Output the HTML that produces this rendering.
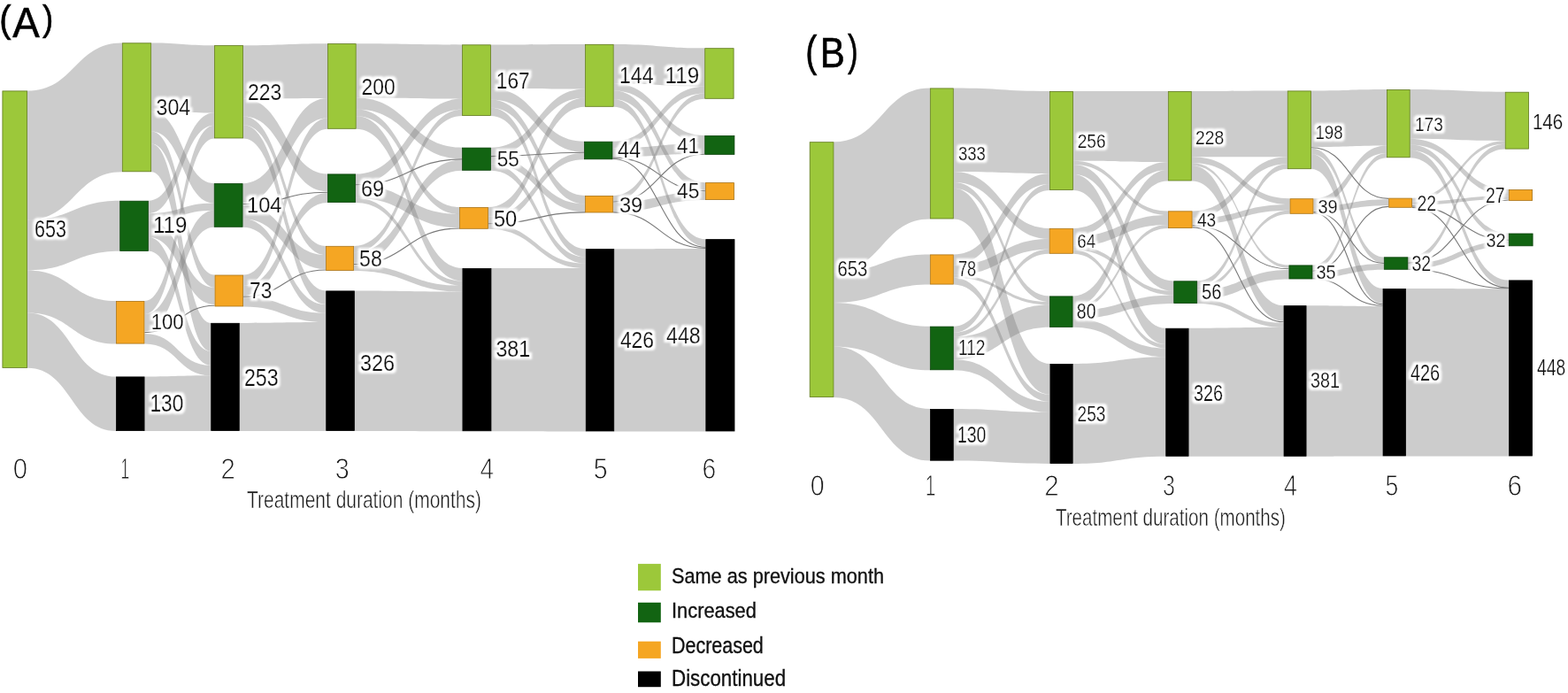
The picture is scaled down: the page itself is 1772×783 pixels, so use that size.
<!DOCTYPE html>
<html><head><meta charset="utf-8"><title>Sankey</title><style>html,body{margin:0;padding:0;background:#fff;overflow:hidden}svg{display:block}</style></head><body>
<svg width="1772" height="783" viewBox="0 0 1772 783">
<defs><filter id="halo2" x="-5%" y="-5%" width="110%" height="110%"><feMorphology in="SourceAlpha" operator="dilate" radius="3" result="d"/><feGaussianBlur in="d" stdDeviation="1.1" result="b"/><feFlood flood-color="#fff"/><feComposite in2="b" operator="in" result="h"/><feMerge><feMergeNode in="h"/><feMergeNode in="SourceGraphic"/></feMerge></filter></defs>
<rect width="1772" height="783" fill="#fff"/>
<g id="panelA">
<text font-family="Liberation Sans, sans-serif" fill="#000" stroke="#000" stroke-width="0.6"><tspan x="-0.7" y="36.1" font-size="43.36" textLength="13.3" lengthAdjust="spacingAndGlyphs">(</tspan><tspan x="14.2" y="41.7" font-size="47.85" textLength="30.5" lengthAdjust="spacingAndGlyphs">A</tspan><tspan x="48.1" y="35.1" font-size="41.23" textLength="12.2" lengthAdjust="spacingAndGlyphs">)</tspan></text>
<g fill="#808080" fill-opacity="0.4">
<path d="M31 102.5C84.5 102.5 84.5 48.4 137.9 48.4L137.9 194.2C84.5 194.2 84.5 248.4 31 248.4Z"/>
<path d="M31 248.4C83.2 248.4 83.2 226.8 135.3 226.8L135.3 283.8C83.2 283.8 83.2 305.4 31 305.4Z"/>
<path d="M31 305.4C81 305.4 81 340 131 340L131 388.5C81 388.5 81 353.4 31 353.4Z"/>
<path d="M31 353.4C81 353.4 81 425.5 131 425.5L131 487C81 487 81 415.8 31 415.8Z"/>
<path d="M171.1 48.4C206.6 48.4 206.6 51.2 242.1 51.2L242.1 127.6C206.6 127.6 206.6 126.1 171.1 126.1Z"/>
<path d="M171.1 126.1C206.4 126.1 206.4 207.2 241.8 207.2L241.8 229.6C206.4 229.6 206.4 148.6 171.1 148.6Z"/>
<path d="M171.1 148.6C206.8 148.6 206.8 310.6 242.6 310.6L242.6 324.8C206.8 324.8 206.8 162.5 171.1 162.5Z"/>
<path d="M171.1 162.5C204.7 162.5 204.7 364.9 238.3 364.9L238.3 396.8C204.7 396.8 204.7 194.2 171.1 194.2Z"/>
<path d="M167.8 226.8C204.9 226.8 204.9 127.6 242.1 127.6L242.1 141.8C204.9 141.8 204.9 241.2 167.8 241.2Z"/>
<path d="M167.8 241.2C204.8 241.2 204.8 229.6 241.8 229.6L241.8 237.7C204.8 237.7 204.8 249.3 167.8 249.3Z"/>
<path d="M167.8 249.3C205.2 249.3 205.2 324.8 242.6 324.8L242.6 343.9C205.2 343.9 205.2 268 167.8 268Z"/>
<path d="M167.8 268C203.1 268 203.1 396.8 238.3 396.8L238.3 412.7C203.1 412.7 203.1 283.8 167.8 283.8Z"/>
<path d="M163.4 340C202.8 340 202.8 141.8 242.1 141.8L242.1 156.4C202.8 156.4 202.8 355 163.4 355Z"/>
<path d="M163.4 355C202.6 355 202.6 237.7 241.8 237.7L241.8 256.7C202.6 256.7 202.6 374.4 163.4 374.4Z"/>
<path d="M163.4 376.9C200.9 376.9 200.9 412.7 238.3 412.7L238.3 424.3C200.9 424.3 200.9 388.5 163.4 388.5Z"/>
<path d="M163.5 425.5C200.9 425.5 200.9 424.3 238.3 424.3L238.3 487C200.9 487 200.9 487 163.5 487Z"/>
<path d="M275 51.2C322.6 51.2 322.6 49.2 370.1 49.2L370.1 111C322.6 111 322.6 111.6 275 111.6Z"/>
<path d="M275 111.6C322.6 111.6 322.6 196.5 370.1 196.5L370.1 216.2C322.6 216.2 322.6 131.4 275 131.4Z"/>
<path d="M275 131.4C321.6 131.4 321.6 277.9 368.1 277.9L368.1 288.1C321.6 288.1 321.6 141.3 275 141.3Z"/>
<path d="M275 141.3C321.6 141.3 321.6 328.5 368.3 328.5L368.3 344.1C321.6 344.1 321.6 156.4 275 156.4Z"/>
<path d="M274.5 207.2C322.3 207.2 322.3 111 370.1 111L370.1 133.6C322.3 133.6 322.3 229.6 274.5 229.6Z"/>
<path d="M274.5 231.5C321.3 231.5 321.3 288.1 368.1 288.1L368.1 304.1C321.3 304.1 321.3 247.2 274.5 247.2Z"/>
<path d="M274.5 247.2C321.4 247.2 321.4 344.1 368.3 344.1L368.3 353.8C321.4 353.8 321.4 256.7 274.5 256.7Z"/>
<path d="M275 310.6C322.6 310.6 322.6 133.6 370.1 133.6L370.1 145.7C322.6 145.7 322.6 322.9 275 322.9Z"/>
<path d="M275 322.9C322.6 322.9 322.6 218.1 370.1 218.1L370.1 228.9C322.6 228.9 322.6 334.1 275 334.1Z"/>
<path d="M275 336.1C321.6 336.1 321.6 353.8 368.3 353.8L368.3 364C321.6 364 321.6 346.4 275 346.4Z"/>
<path d="M270.7 364.9C319.5 364.9 319.5 364 368.3 364L368.3 487C319.5 487 319.5 487 270.7 487Z"/>
<path d="M402.6 49.2C462.4 49.2 462.4 50.4 522.2 50.4L522.2 111.6C462.4 111.6 462.4 110.5 402.6 110.5Z"/>
<path d="M402.6 110.5C462.4 110.5 462.4 166.7 522.2 166.7L522.2 179.5C462.4 179.5 462.4 123.5 402.6 123.5Z"/>
<path d="M402.6 123.5C460.9 123.5 460.9 234 519.2 234L519.2 241.9C460.9 241.9 460.9 131.2 402.6 131.2Z"/>
<path d="M402.6 131.2C462.6 131.2 462.6 303 522.5 303L522.5 317.5C462.6 317.5 462.6 145.7 402.6 145.7Z"/>
<path d="M402 196.5C462.1 196.5 462.1 111.6 522.2 111.6L522.2 123.7C462.1 123.7 462.1 208.2 402 208.2Z"/>
<path d="M402 209.2C460.6 209.2 460.6 241.9 519.2 241.9L519.2 257.2C460.6 257.2 460.6 223.7 402 223.7Z"/>
<path d="M402 223.7C462.2 223.7 462.2 317.5 522.5 317.5L522.5 322.8C462.2 322.8 462.2 228.9 402 228.9Z"/>
<path d="M400 277.9C461.1 277.9 461.1 123.7 522.2 123.7L522.2 130.9C461.1 130.9 461.1 285.2 400 285.2Z"/>
<path d="M400 285.2C461.1 285.2 461.1 180.4 522.2 180.4L522.2 192.7C461.1 192.7 461.1 297.8 400 297.8Z"/>
<path d="M400 299.2C461.2 299.2 461.2 322.8 522.5 322.8L522.5 329.6C461.2 329.6 461.2 306 400 306Z"/>
<path d="M400.8 328.5C461.6 328.5 461.6 329.6 522.5 329.6L522.5 487.2C461.6 487.2 461.6 487 400.8 487Z"/>
<path d="M554.9 50.4C608 50.4 608 49.9 661.2 49.9L661.2 100.5C608 100.5 608 100 554.9 100Z"/>
<path d="M554.9 100C607.5 100 607.5 159.8 660 159.8L660 171.9C607.5 171.9 607.5 112.6 554.9 112.6Z"/>
<path d="M554.9 112.6C608 112.6 608 221 661.2 221L661.2 230.5C608 230.5 608 121.7 554.9 121.7Z"/>
<path d="M554.9 121.7C608.3 121.7 608.3 281.2 661.8 281.2L661.8 290.4C608.3 290.4 608.3 130.9 554.9 130.9Z"/>
<path d="M554.9 166.7C608 166.7 608 100.5 661.2 100.5L661.2 110.4C608 110.4 608 176.2 554.9 176.2Z"/>
<path d="M554.9 177.1C608 177.1 608 230.5 661.2 230.5L661.2 239.4C608 239.4 608 185.6 554.9 185.6Z"/>
<path d="M554.9 185.6C608.3 185.6 608.3 290.4 661.8 290.4L661.8 297.7C608.3 297.7 608.3 192.7 554.9 192.7Z"/>
<path d="M551.9 234C606.5 234 606.5 110.4 661.2 110.4L661.2 120.7C606.5 120.7 606.5 244.4 551.9 244.4Z"/>
<path d="M551.9 244.4C606 244.4 606 172.8 660 172.8L660 180.2C606 180.2 606 252.3 551.9 252.3Z"/>
<path d="M551.9 253.3C606.8 253.3 606.8 297.7 661.8 297.7L661.8 303C606.8 303 606.8 258.7 551.9 258.7Z"/>
<path d="M555.4 303C608.6 303 608.6 303 661.8 303L661.8 487.4C608.6 487.4 608.6 487.2 555.4 487.2Z"/>
<path d="M693.6 49.9C745 49.9 745 54.3 796.3 54.3L796.3 97.7C745 97.7 745 94.2 693.6 94.2Z"/>
<path d="M693.6 94.2C745 94.2 745 153.1 796.3 153.1L796.3 162.1C745 162.1 745 102.5 693.6 102.5Z"/>
<path d="M693.6 102.5C745.3 102.5 745.3 206.2 797 206.2L797 215C745.3 215 745.3 112.3 693.6 112.3Z"/>
<path d="M693.6 112.3C745.5 112.3 745.5 270.2 797.4 270.2L797.4 278.4C745.5 278.4 745.5 120.7 693.6 120.7Z"/>
<path d="M692.4 159.8C744.3 159.8 744.3 97.7 796.3 97.7L796.3 105.4C744.3 105.4 744.3 167.2 692.4 167.2Z"/>
<path d="M692.4 167.2C744.3 167.2 744.3 162.1 796.3 162.1L796.3 173.7C744.3 173.7 744.3 177.4 692.4 177.4Z"/>
<path d="M693.1 221C744.7 221 744.7 105.4 796.3 105.4L796.3 111.7C744.7 111.7 744.7 227.5 693.1 227.5Z"/>
<path d="M693.1 228.5C745 228.5 745 216.3 797 216.3L797 226C745 226 745 239.4 693.1 239.4Z"/>
<path d="M694.2 281.2C745.8 281.2 745.8 280.9 797.4 280.9L797.4 487.4C745.8 487.4 745.8 487.4 694.2 487.4Z"/>
</g>
<g fill="none" stroke="#7a7a7a" stroke-width="1.1">
<path d="M163.4 375.6C203 375.6 203 345.2 242.6 345.2"/>
<path d="M274.5 230.5C322.3 230.5 322.3 217.2 370.1 217.2"/>
<path d="M275 335.1C321.6 335.1 321.6 305 368.1 305"/>
<path d="M402 208.7C462.1 208.7 462.1 179.9 522.2 179.9"/>
<path d="M400 298.5C459.6 298.5 459.6 258 519.2 258"/>
<path d="M554.9 176.6C607.5 176.6 607.5 172.3 660 172.3"/>
<path d="M551.9 252.8C606.5 252.8 606.5 239.9 661.2 239.9"/>
<path d="M692.4 178.1C744.7 178.1 744.7 215.7 797 215.7"/>
<path d="M692.4 179.5C744.9 179.5 744.9 279.2 797.4 279.2"/>
<path d="M693.1 228C744.7 228 744.7 174.3 796.3 174.3"/>
<path d="M693.1 239.9C745.2 239.9 745.2 280.4 797.4 280.4"/>
</g>
<g>
<rect x="2.9" y="102.9" width="27.7" height="312.5" fill="#9cc83a" stroke="#60781f" stroke-width="0.8"/>
<rect x="138.3" y="48.8" width="32.4" height="145" fill="#9cc83a" stroke="#60781f" stroke-width="0.8"/>
<rect x="135.7" y="227.2" width="31.7" height="56.2" fill="#126412" stroke="#0a420a" stroke-width="0.8"/>
<rect x="131.4" y="340.4" width="31.6" height="47.7" fill="#f5a623" stroke="#a8741a" stroke-width="0.8"/>
<rect x="131.4" y="425.9" width="31.7" height="60.7" fill="#000000" stroke="#000" stroke-width="0.8"/>
<rect x="242.5" y="51.6" width="32.1" height="104.4" fill="#9cc83a" stroke="#60781f" stroke-width="0.8"/>
<rect x="242.2" y="207.6" width="31.9" height="48.7" fill="#126412" stroke="#0a420a" stroke-width="0.8"/>
<rect x="243" y="311" width="31.6" height="35" fill="#f5a623" stroke="#a8741a" stroke-width="0.8"/>
<rect x="238.7" y="365.3" width="31.6" height="121.3" fill="#000000" stroke="#000" stroke-width="0.8"/>
<rect x="370.5" y="49.6" width="31.7" height="95.7" fill="#9cc83a" stroke="#60781f" stroke-width="0.8"/>
<rect x="370.5" y="196.9" width="31.1" height="31.6" fill="#126412" stroke="#0a420a" stroke-width="0.8"/>
<rect x="368.5" y="278.3" width="31.1" height="27.3" fill="#f5a623" stroke="#a8741a" stroke-width="0.8"/>
<rect x="368.7" y="328.9" width="31.7" height="157.7" fill="#000000" stroke="#000" stroke-width="0.8"/>
<rect x="522.6" y="50.8" width="31.9" height="79.7" fill="#9cc83a" stroke="#60781f" stroke-width="0.8"/>
<rect x="522.6" y="167.1" width="31.9" height="25.2" fill="#126412" stroke="#0a420a" stroke-width="0.8"/>
<rect x="519.6" y="234.4" width="31.9" height="23.9" fill="#f5a623" stroke="#a8741a" stroke-width="0.8"/>
<rect x="522.9" y="303.4" width="32.1" height="183.4" fill="#000000" stroke="#000" stroke-width="0.8"/>
<rect x="661.6" y="50.3" width="31.6" height="70" fill="#9cc83a" stroke="#60781f" stroke-width="0.8"/>
<rect x="660.4" y="160.2" width="31.6" height="19.6" fill="#126412" stroke="#0a420a" stroke-width="0.8"/>
<rect x="661.6" y="221.4" width="31.1" height="18.6" fill="#f5a623" stroke="#a8741a" stroke-width="0.8"/>
<rect x="662.2" y="281.6" width="31.6" height="205.4" fill="#000000" stroke="#000" stroke-width="0.8"/>
<rect x="796.7" y="54.7" width="32.4" height="56.6" fill="#9cc83a" stroke="#60781f" stroke-width="0.8"/>
<rect x="796.7" y="153.5" width="33.2" height="20.9" fill="#126412" stroke="#0a420a" stroke-width="0.8"/>
<rect x="797.4" y="206.6" width="32" height="19" fill="#f5a623" stroke="#a8741a" stroke-width="0.8"/>
<rect x="797.8" y="270.6" width="32.2" height="216.4" fill="#000000" stroke="#000" stroke-width="0.8"/>
</g>
<g font-family="Liberation Sans, sans-serif" fill="#111" stroke="#111" stroke-width="0.2" filter="url(#halo2)">
<text x="39" y="267.5" font-size="27.5" textLength="36.0" lengthAdjust="spacingAndGlyphs">653</text>
<text x="176.6" y="130.1" font-size="26.6" textLength="38.6" lengthAdjust="spacingAndGlyphs">304</text>
<text x="173" y="262.6" font-size="25.2" textLength="38.3" lengthAdjust="spacingAndGlyphs">119</text>
<text x="170.7" y="371.9" font-size="24.5" textLength="36.9" lengthAdjust="spacingAndGlyphs">100</text>
<text x="169.5" y="464.5" font-size="27.6" textLength="37.8" lengthAdjust="spacingAndGlyphs">130</text>
<text x="280" y="113" font-size="25.2" textLength="38.3" lengthAdjust="spacingAndGlyphs">223</text>
<text x="279" y="239.6" font-size="24.1" textLength="39.4" lengthAdjust="spacingAndGlyphs">104</text>
<text x="282" y="336.7" font-size="25.2" textLength="25.3" lengthAdjust="spacingAndGlyphs">73</text>
<text x="275.9" y="436.3" font-size="27.2" textLength="38.7" lengthAdjust="spacingAndGlyphs">253</text>
<text x="408.5" y="106.6" font-size="25.9" textLength="38.1" lengthAdjust="spacingAndGlyphs">200</text>
<text x="408" y="221.6" font-size="25.2" textLength="26.2" lengthAdjust="spacingAndGlyphs">69</text>
<text x="406.1" y="300.9" font-size="25.2" textLength="25.7" lengthAdjust="spacingAndGlyphs">58</text>
<text x="407" y="418.7" font-size="26.6" textLength="39.1" lengthAdjust="spacingAndGlyphs">326</text>
<text x="560.8" y="100.2" font-size="25.1" textLength="37.8" lengthAdjust="spacingAndGlyphs">167</text>
<text x="561.8" y="188.4" font-size="24.5" textLength="25.1" lengthAdjust="spacingAndGlyphs">55</text>
<text x="557.9" y="255.7" font-size="25.2" textLength="26.3" lengthAdjust="spacingAndGlyphs">50</text>
<text x="560.4" y="403" font-size="25.6" textLength="38.8" lengthAdjust="spacingAndGlyphs">381</text>
<text x="700" y="94.4" font-size="25.9" textLength="38.6" lengthAdjust="spacingAndGlyphs">144</text>
<text x="698.1" y="178.1" font-size="25.1" textLength="26.0" lengthAdjust="spacingAndGlyphs">44</text>
<text x="699.9" y="239.6" font-size="24.1" textLength="26.3" lengthAdjust="spacingAndGlyphs">39</text>
<text x="700.9" y="392.8" font-size="25.1" textLength="38.1" lengthAdjust="spacingAndGlyphs">426</text>
<text x="751.6" y="94.4" font-size="25.9" textLength="38.6" lengthAdjust="spacingAndGlyphs">119</text>
<text x="765" y="172.5" font-size="24.4" textLength="25.1" lengthAdjust="spacingAndGlyphs">41</text>
<text x="765" y="224.1" font-size="24.1" textLength="25.3" lengthAdjust="spacingAndGlyphs">45</text>
<text x="753.1" y="387.7" font-size="25.1" textLength="38.6" lengthAdjust="spacingAndGlyphs">448</text>
</g>
<g font-family="Liberation Sans, sans-serif">
<text x="14.7" y="541.2" font-size="33.79" textLength="16.3" lengthAdjust="spacingAndGlyphs" fill="#1a1a1a" stroke="#fff" stroke-width="0.9">0</text>
<text x="136.5" y="541.2" font-size="33.79" textLength="9.7" lengthAdjust="spacingAndGlyphs" fill="#1a1a1a" stroke="#fff" stroke-width="0.9">1</text>
<text x="249.4" y="541.2" font-size="33.79" textLength="16.3" lengthAdjust="spacingAndGlyphs" fill="#1a1a1a" stroke="#fff" stroke-width="0.9">2</text>
<text x="378.8" y="541.2" font-size="33.79" textLength="16.0" lengthAdjust="spacingAndGlyphs" fill="#1a1a1a" stroke="#fff" stroke-width="0.9">3</text>
<text x="542.6" y="541.2" font-size="33.79" textLength="15.5" lengthAdjust="spacingAndGlyphs" fill="#1a1a1a" stroke="#fff" stroke-width="0.9">4</text>
<text x="670.8" y="541.2" font-size="33.79" textLength="15.9" lengthAdjust="spacingAndGlyphs" fill="#1a1a1a" stroke="#fff" stroke-width="0.9">5</text>
<text x="793.5" y="541.2" font-size="33.79" textLength="15.7" lengthAdjust="spacingAndGlyphs" fill="#1a1a1a" stroke="#fff" stroke-width="0.9">6</text>
<text x="279.0" y="574.3" font-size="28.20" textLength="265.0" lengthAdjust="spacingAndGlyphs" fill="#1a1a1a" stroke="#fff" stroke-width="0.5">Treatment duration (months)</text>
</g></g>
<g id="panelB">
<text font-family="Liberation Sans, sans-serif" fill="#000" stroke="#000" stroke-width="0.6"><tspan x="910.3" y="74.6" font-size="50.51" textLength="13.1" lengthAdjust="spacingAndGlyphs">(</tspan><tspan x="926.7" y="75.7" font-size="48.86" textLength="28.0" lengthAdjust="spacingAndGlyphs">B</tspan><tspan x="958.0" y="74.4" font-size="49.10" textLength="11.7" lengthAdjust="spacingAndGlyphs">)</tspan></text>
<g fill="#808080" fill-opacity="0.4">
<path d="M942.4 160.3C996.7 160.3 996.7 99.5 1050.9 99.5L1050.9 247.4C996.7 247.4 996.7 307.5 942.4 307.5Z"/>
<path d="M942.4 307.5C996.7 307.5 996.7 287.5 1050.9 287.5L1050.9 321.5C996.7 321.5 996.7 342 942.4 342Z"/>
<path d="M942.4 342C996.7 342 996.7 368.7 1050.9 368.7L1050.9 418.2C996.7 418.2 996.7 391.5 942.4 391.5Z"/>
<path d="M942.4 391.5C996.7 391.5 996.7 462 1051 462L1051 520.6C996.7 520.6 996.7 449 942.4 449Z"/>
<path d="M1077.7 99.5C1132 99.5 1132 103 1186.2 103L1186.2 196.1C1132 196.1 1132 194.1 1077.7 194.1Z"/>
<path d="M1077.7 194.1C1131.7 194.1 1131.7 257.9 1185.7 257.9L1185.7 270C1131.7 270 1131.7 206.1 1077.7 206.1Z"/>
<path d="M1077.7 206.1C1132 206.1 1132 334.5 1186.2 334.5L1186.2 341.1C1132 341.1 1132 212.8 1077.7 212.8Z"/>
<path d="M1077.7 212.8C1132.1 212.8 1132.1 411 1186.5 411L1186.5 445.8C1132.1 445.8 1132.1 247.4 1077.7 247.4Z"/>
<path d="M1077.7 287.5C1132 287.5 1132 196.1 1186.2 196.1L1186.2 207.9C1132 207.9 1132 299.3 1077.7 299.3Z"/>
<path d="M1077.7 299.3C1131.7 299.3 1131.7 270 1185.7 270L1185.7 281.7C1131.7 281.7 1131.7 310.6 1077.7 310.6Z"/>
<path d="M1077.7 310.6C1132 310.6 1132 341.1 1186.2 341.1L1186.2 344.2C1132 344.2 1132 313.7 1077.7 313.7Z"/>
<path d="M1077.7 313.7C1132.1 313.7 1132.1 445.8 1186.5 445.8L1186.5 453.9C1132.1 453.9 1132.1 321.5 1077.7 321.5Z"/>
<path d="M1077.7 368.7C1132 368.7 1132 207.9 1186.2 207.9L1186.2 214.9C1132 214.9 1132 375.8 1077.7 375.8Z"/>
<path d="M1077.7 375.8C1131.7 375.8 1131.7 281.7 1185.7 281.7L1185.7 286.7C1131.7 286.7 1131.7 380.6 1077.7 380.6Z"/>
<path d="M1077.7 380.6C1132 380.6 1132 344.2 1186.2 344.2L1186.2 369.8C1132 369.8 1132 406.3 1077.7 406.3Z"/>
<path d="M1077.7 406.3C1132.1 406.3 1132.1 453.9 1186.5 453.9L1186.5 465.9C1132.1 465.9 1132.1 418.2 1077.7 418.2Z"/>
<path d="M1077.7 462C1132.1 462 1132.1 465.9 1186.5 465.9L1186.5 524C1132.1 524 1132.1 520.6 1077.7 520.6Z"/>
<path d="M1213 103C1266.5 103 1266.5 103 1319.9 103L1319.9 183.1C1266.5 183.1 1266.5 181.7 1213 181.7Z"/>
<path d="M1213 181.7C1266.5 181.7 1266.5 238.4 1320.1 238.4L1320.1 243C1266.5 243 1266.5 186.1 1213 186.1Z"/>
<path d="M1213 186.1C1269.7 186.1 1269.7 317.4 1326.3 317.4L1326.3 328.8C1269.7 328.8 1269.7 197 1213 197Z"/>
<path d="M1213 197C1265.2 197 1265.2 370.8 1317.3 370.8L1317.3 389C1265.2 389 1265.2 214.9 1213 214.9Z"/>
<path d="M1213 257.9C1266.5 257.9 1266.5 183.1 1319.9 183.1L1319.9 191.9C1266.5 191.9 1266.5 266.9 1213 266.9Z"/>
<path d="M1213 266.9C1266.5 266.9 1266.5 243 1320.1 243L1320.1 253.9C1266.5 253.9 1266.5 277.7 1213 277.7Z"/>
<path d="M1213 277.7C1269.7 277.7 1269.7 328.8 1326.3 328.8L1326.3 333.4C1269.7 333.4 1269.7 282.2 1213 282.2Z"/>
<path d="M1213 282.2C1265.2 282.2 1265.2 389 1317.3 389L1317.3 393.5C1265.2 393.5 1265.2 286.7 1213 286.7Z"/>
<path d="M1212.5 334.5C1266.2 334.5 1266.2 191.9 1319.9 191.9L1319.9 204.4C1266.2 204.4 1266.2 346.9 1212.5 346.9Z"/>
<path d="M1212.5 346.9C1266.3 346.9 1266.3 253.9 1320.1 253.9L1320.1 258C1266.3 258 1266.3 350.8 1212.5 350.8Z"/>
<path d="M1212.5 350.8C1269.4 350.8 1269.4 333.4 1326.3 333.4L1326.3 343C1269.4 343 1269.4 360.1 1212.5 360.1Z"/>
<path d="M1212.5 360.1C1264.9 360.1 1264.9 393.5 1317.3 393.5L1317.3 403.2C1264.9 403.2 1264.9 369.8 1212.5 369.8Z"/>
<path d="M1212.6 411C1264.9 411 1264.9 403.2 1317.3 403.2L1317.3 515.7C1264.9 515.7 1264.9 524 1212.6 524Z"/>
<path d="M1346.7 103C1400.8 103 1400.8 102.5 1454.8 102.5L1454.8 177.2C1400.8 177.2 1400.8 177.3 1346.7 177.3Z"/>
<path d="M1346.7 177.3C1402.2 177.3 1402.2 224.3 1457.6 224.3L1457.6 231C1402.2 231 1402.2 183.9 1346.7 183.9Z"/>
<path d="M1346.7 183.9C1401.6 183.9 1401.6 299.5 1456.5 299.5L1456.5 302.7C1401.6 302.7 1401.6 187.1 1346.7 187.1Z"/>
<path d="M1346.7 187.1C1398.7 187.1 1398.7 345.2 1450.6 345.2L1450.6 362.7C1398.7 362.7 1398.7 204.4 1346.7 204.4Z"/>
<path d="M1347.5 238.4C1401.2 238.4 1401.2 177.2 1454.8 177.2L1454.8 185.3C1401.2 185.3 1401.2 246.6 1347.5 246.6Z"/>
<path d="M1347.5 246.6C1402.5 246.6 1402.5 231 1457.6 231L1457.6 237.7C1402.5 237.7 1402.5 253.4 1347.5 253.4Z"/>
<path d="M1353.1 317.4C1403.9 317.4 1403.9 185.3 1454.8 185.3L1454.8 191.1C1403.9 191.1 1403.9 323.3 1353.1 323.3Z"/>
<path d="M1353.1 323.3C1405.3 323.3 1405.3 237.7 1457.6 237.7L1457.6 241.7C1405.3 241.7 1405.3 327.5 1353.1 327.5Z"/>
<path d="M1353.1 327.5C1404.8 327.5 1404.8 305 1456.5 305L1456.5 315.4C1404.8 315.4 1404.8 338 1353.1 338Z"/>
<path d="M1353.1 338C1401.8 338 1401.8 364.9 1450.6 364.9L1450.6 369.8C1401.8 369.8 1401.8 343 1353.1 343Z"/>
<path d="M1343.5 370.8C1397 370.8 1397 369.8 1450.6 369.8L1450.6 515.7C1397 515.7 1397 515.7 1343.5 515.7Z"/>
<path d="M1481.9 102.5C1524.5 102.5 1524.5 101.1 1567 101.1L1567 164.4C1524.5 164.4 1524.5 166 1481.9 166Z"/>
<path d="M1481.9 167.4C1522.9 167.4 1522.9 290.4 1563.9 290.4L1563.9 297.1C1522.9 297.1 1522.9 174.1 1481.9 174.1Z"/>
<path d="M1481.9 174.1C1522.2 174.1 1522.2 326 1562.6 326L1562.6 342.9C1522.2 342.9 1522.2 191.1 1481.9 191.1Z"/>
<path d="M1484.4 224.3C1525.7 224.3 1525.7 164.4 1567 164.4L1567 172.9C1525.7 172.9 1525.7 232.8 1484.4 232.8Z"/>
<path d="M1484.4 232.8C1526.8 232.8 1526.8 225.2 1569.3 225.2L1569.3 232.2C1526.8 232.2 1526.8 239 1484.4 239Z"/>
<path d="M1483.4 299.5C1525.2 299.5 1525.2 172.9 1567 172.9L1567 178.2C1525.2 178.2 1525.2 305 1483.4 305Z"/>
<path d="M1483.4 307.2C1523.7 307.2 1523.7 298 1563.9 298L1563.9 304.7C1523.7 304.7 1523.7 314 1483.4 314Z"/>
<path d="M1476.5 345.2C1519.5 345.2 1519.5 346 1562.6 346L1562.6 515.4C1519.5 515.4 1519.5 515.7 1476.5 515.7Z"/>
<path d="M1593.6 101.1C1647.2 101.1 1647.2 103.8 1700.8 103.8L1700.8 159.2C1647.2 159.2 1647.2 156.8 1593.6 156.8Z"/>
<path d="M1593.6 156.8C1649.2 156.8 1649.2 214 1704.9 214L1704.9 221.2C1649.2 221.2 1649.2 163.5 1593.6 163.5Z"/>
<path d="M1593.6 163.5C1649.2 163.5 1649.2 263.6 1704.9 263.6L1704.9 270C1649.2 270 1649.2 169.7 1593.6 169.7Z"/>
<path d="M1593.6 169.7C1649.3 169.7 1649.3 316.5 1705 316.5L1705 324.9C1649.3 324.9 1649.3 178.2 1593.6 178.2Z"/>
<path d="M1596 223.7C1648.4 223.7 1648.4 159.2 1700.8 159.2L1700.8 162.7C1648.4 162.7 1648.4 227.7 1596 227.7Z"/>
<path d="M1596 227.7C1650.5 227.7 1650.5 221.2 1704.9 221.2L1704.9 225.1C1650.5 225.1 1650.5 231.7 1596 231.7Z"/>
<path d="M1591.3 290.4C1646 290.4 1646 162.7 1700.8 162.7L1700.8 168.5C1646 168.5 1646 296.2 1591.3 296.2Z"/>
<path d="M1591.3 298C1648.1 298 1648.1 272.3 1704.9 272.3L1704.9 278.2C1648.1 278.2 1648.1 303.8 1591.3 303.8Z"/>
<path d="M1589 326C1647 326 1647 326.3 1705 326.3L1705 515.4C1647 515.4 1647 515.4 1589 515.4Z"/>
</g>
<g fill="none" stroke="#7a7a7a" stroke-width="1.1">
<path d="M1347.5 254.6C1402 254.6 1402 303.8 1456.5 303.8"/>
<path d="M1347.5 256.9C1399 256.9 1399 363.8 1450.6 363.8"/>
<path d="M1481.9 166.7C1525.6 166.7 1525.6 224.4 1569.3 224.4"/>
<path d="M1484.4 239.5C1524.2 239.5 1524.2 297.5 1563.9 297.5"/>
<path d="M1484.4 240.8C1523.5 240.8 1523.5 343.8 1562.6 343.8"/>
<path d="M1483.4 306.1C1526.3 306.1 1526.3 233.4 1569.3 233.4"/>
<path d="M1483.4 314.7C1523 314.7 1523 345.3 1562.6 345.3"/>
<path d="M1596 232.9C1650.5 232.9 1650.5 271.1 1704.9 271.1"/>
<path d="M1596 234.4C1650.5 234.4 1650.5 325.2 1705 325.2"/>
<path d="M1591.3 297.1C1648.1 297.1 1648.1 226 1704.9 226"/>
<path d="M1591.3 304.3C1648.2 304.3 1648.2 325.8 1705 325.8"/>
</g>
<g>
<rect x="915.2" y="160.7" width="26.8" height="287.9" fill="#9cc83a" stroke="#60781f" stroke-width="0.8"/>
<rect x="1051.3" y="99.9" width="26" height="147.1" fill="#9cc83a" stroke="#60781f" stroke-width="0.8"/>
<rect x="1051.3" y="287.9" width="26" height="33.2" fill="#f5a623" stroke="#a8741a" stroke-width="0.8"/>
<rect x="1051.3" y="369.1" width="26" height="48.7" fill="#126412" stroke="#0a420a" stroke-width="0.8"/>
<rect x="1051.4" y="462.4" width="25.9" height="57.8" fill="#000000" stroke="#000" stroke-width="0.8"/>
<rect x="1186.6" y="103.4" width="26" height="111.1" fill="#9cc83a" stroke="#60781f" stroke-width="0.8"/>
<rect x="1186.1" y="258.3" width="26.5" height="28" fill="#f5a623" stroke="#a8741a" stroke-width="0.8"/>
<rect x="1186.6" y="334.9" width="25.5" height="34.5" fill="#126412" stroke="#0a420a" stroke-width="0.8"/>
<rect x="1186.9" y="411.4" width="25.3" height="112.2" fill="#000000" stroke="#000" stroke-width="0.8"/>
<rect x="1320.3" y="103.4" width="26" height="100.6" fill="#9cc83a" stroke="#60781f" stroke-width="0.8"/>
<rect x="1320.5" y="238.8" width="26.6" height="18.8" fill="#f5a623" stroke="#a8741a" stroke-width="0.8"/>
<rect x="1326.7" y="317.8" width="26" height="24.8" fill="#126412" stroke="#0a420a" stroke-width="0.8"/>
<rect x="1317.7" y="371.2" width="25.4" height="144.1" fill="#000000" stroke="#000" stroke-width="0.8"/>
<rect x="1455.2" y="102.9" width="26.3" height="87.8" fill="#9cc83a" stroke="#60781f" stroke-width="0.8"/>
<rect x="1458" y="224.7" width="26" height="16.6" fill="#f5a623" stroke="#a8741a" stroke-width="0.8"/>
<rect x="1456.9" y="299.9" width="26.1" height="15.1" fill="#126412" stroke="#0a420a" stroke-width="0.8"/>
<rect x="1451" y="345.6" width="25.1" height="169.7" fill="#000000" stroke="#000" stroke-width="0.8"/>
<rect x="1567.4" y="101.5" width="25.8" height="76.3" fill="#9cc83a" stroke="#60781f" stroke-width="0.8"/>
<rect x="1569.7" y="224.1" width="25.9" height="10.2" fill="#f5a623" stroke="#a8741a" stroke-width="0.8"/>
<rect x="1564.3" y="290.8" width="26.6" height="13.5" fill="#126412" stroke="#0a420a" stroke-width="0.8"/>
<rect x="1563" y="326.4" width="25.6" height="188.6" fill="#000000" stroke="#000" stroke-width="0.8"/>
<rect x="1701.2" y="104.2" width="26.3" height="63.9" fill="#9cc83a" stroke="#60781f" stroke-width="0.8"/>
<rect x="1705.3" y="214.4" width="26.3" height="12.2" fill="#f5a623" stroke="#a8741a" stroke-width="0.8"/>
<rect x="1705.3" y="264" width="26.8" height="13.8" fill="#126412" stroke="#0a420a" stroke-width="0.8"/>
<rect x="1705.4" y="316.9" width="26.2" height="198.1" fill="#000000" stroke="#000" stroke-width="0.8"/>
</g>
<g font-family="Liberation Sans, sans-serif" fill="#111" stroke="#111" stroke-width="0.2" filter="url(#halo2)">
<text x="946.5" y="312.2" font-size="24.1" textLength="33.9" lengthAdjust="spacingAndGlyphs">653</text>
<text x="1082.9" y="181.4" font-size="22.3" textLength="30.9" lengthAdjust="spacingAndGlyphs">333</text>
<text x="1083" y="312" font-size="23" textLength="20.2" lengthAdjust="spacingAndGlyphs">78</text>
<text x="1083" y="401.4" font-size="24.1" textLength="30.5" lengthAdjust="spacingAndGlyphs">112</text>
<text x="1081.9" y="500.2" font-size="25.9" textLength="32.5" lengthAdjust="spacingAndGlyphs">130</text>
<text x="1217.7" y="167.4" font-size="22.4" textLength="31.8" lengthAdjust="spacingAndGlyphs">256</text>
<text x="1217.3" y="280.4" font-size="22.7" textLength="20.8" lengthAdjust="spacingAndGlyphs">64</text>
<text x="1216.8" y="360" font-size="23.9" textLength="21.7" lengthAdjust="spacingAndGlyphs">80</text>
<text x="1217.6" y="475.9" font-size="24.8" textLength="31.8" lengthAdjust="spacingAndGlyphs">253</text>
<text x="1351" y="163" font-size="22.7" textLength="32.1" lengthAdjust="spacingAndGlyphs">228</text>
<text x="1352.9" y="256.2" font-size="22.3" textLength="21.2" lengthAdjust="spacingAndGlyphs">43</text>
<text x="1358" y="338.3" font-size="23.4" textLength="22.3" lengthAdjust="spacingAndGlyphs">56</text>
<text x="1349" y="452.5" font-size="24.9" textLength="32.9" lengthAdjust="spacingAndGlyphs">326</text>
<text x="1486.5" y="156.6" font-size="22.7" textLength="31.1" lengthAdjust="spacingAndGlyphs">198</text>
<text x="1489.5" y="241" font-size="22.5" textLength="22.2" lengthAdjust="spacingAndGlyphs">39</text>
<text x="1487.5" y="315" font-size="22.5" textLength="22.2" lengthAdjust="spacingAndGlyphs">35</text>
<text x="1481" y="438.4" font-size="23.7" textLength="32.9" lengthAdjust="spacingAndGlyphs">381</text>
<text x="1599" y="148.3" font-size="22.7" textLength="31.8" lengthAdjust="spacingAndGlyphs">173</text>
<text x="1601.4" y="238" font-size="23.2" textLength="21.6" lengthAdjust="spacingAndGlyphs">22</text>
<text x="1595.5" y="305.5" font-size="23.2" textLength="21.7" lengthAdjust="spacingAndGlyphs">32</text>
<text x="1593.9" y="430.3" font-size="25.8" textLength="33.2" lengthAdjust="spacingAndGlyphs">426</text>
<text x="1731.9" y="145.5" font-size="23.7" textLength="34.3" lengthAdjust="spacingAndGlyphs">146</text>
<text x="1679" y="229" font-size="23" textLength="21.7" lengthAdjust="spacingAndGlyphs">27</text>
<text x="1679.5" y="279" font-size="22.8" textLength="22.0" lengthAdjust="spacingAndGlyphs">32</text>
<text x="1737.1" y="424.2" font-size="26.3" textLength="32.0" lengthAdjust="spacingAndGlyphs">448</text>
</g>
<g font-family="Liberation Sans, sans-serif">
<text x="915.7" y="559.6" font-size="33.64" textLength="15.9" lengthAdjust="spacingAndGlyphs" fill="#1a1a1a" stroke="#fff" stroke-width="0.9">0</text>
<text x="1045.8" y="559.6" font-size="33.64" textLength="11.6" lengthAdjust="spacingAndGlyphs" fill="#1a1a1a" stroke="#fff" stroke-width="0.9">1</text>
<text x="1180.2" y="559.6" font-size="33.64" textLength="16.4" lengthAdjust="spacingAndGlyphs" fill="#1a1a1a" stroke="#fff" stroke-width="0.9">2</text>
<text x="1314.1" y="559.6" font-size="33.64" textLength="13.9" lengthAdjust="spacingAndGlyphs" fill="#1a1a1a" stroke="#fff" stroke-width="0.9">3</text>
<text x="1450.7" y="559.6" font-size="33.64" textLength="15.2" lengthAdjust="spacingAndGlyphs" fill="#1a1a1a" stroke="#fff" stroke-width="0.9">4</text>
<text x="1565.5" y="559.6" font-size="33.64" textLength="14.8" lengthAdjust="spacingAndGlyphs" fill="#1a1a1a" stroke="#fff" stroke-width="0.9">5</text>
<text x="1703.4" y="559.6" font-size="33.64" textLength="16.5" lengthAdjust="spacingAndGlyphs" fill="#1a1a1a" stroke="#fff" stroke-width="0.9">6</text>
<text x="1192.9" y="594.0" font-size="28.06" textLength="260.0" lengthAdjust="spacingAndGlyphs" fill="#1a1a1a" stroke="#fff" stroke-width="0.5">Treatment duration (months)</text>
</g></g>
<g id="legend" font-family="Liberation Sans, sans-serif">
<rect x="721" y="637.1" width="25.8" height="30.2" fill="#9cc83a"/>
<text x="759.0" y="659.3" font-size="24.07" textLength="240.0" lengthAdjust="spacingAndGlyphs" fill="#111" stroke="#111" stroke-width="0.35">Same as previous month</text>
<rect x="721" y="680.8" width="25.8" height="22.5" fill="#126412"/>
<text x="759.0" y="697.7" font-size="24.25" textLength="95.9" lengthAdjust="spacingAndGlyphs" fill="#111" stroke="#111" stroke-width="0.35">Increased</text>
<rect x="721" y="724.7" width="25.8" height="19.2" fill="#f5a623"/>
<text x="759.0" y="737.5" font-size="25.36" textLength="103.8" lengthAdjust="spacingAndGlyphs" fill="#111" stroke="#111" stroke-width="0.35">Decreased</text>
<rect x="721" y="758.5" width="25.8" height="17.7" fill="#000000"/>
<text x="759.0" y="775.2" font-size="26.17" textLength="129.1" lengthAdjust="spacingAndGlyphs" fill="#111" stroke="#111" stroke-width="0.35">Discontinued</text>
</g>
</svg>
</body></html>
